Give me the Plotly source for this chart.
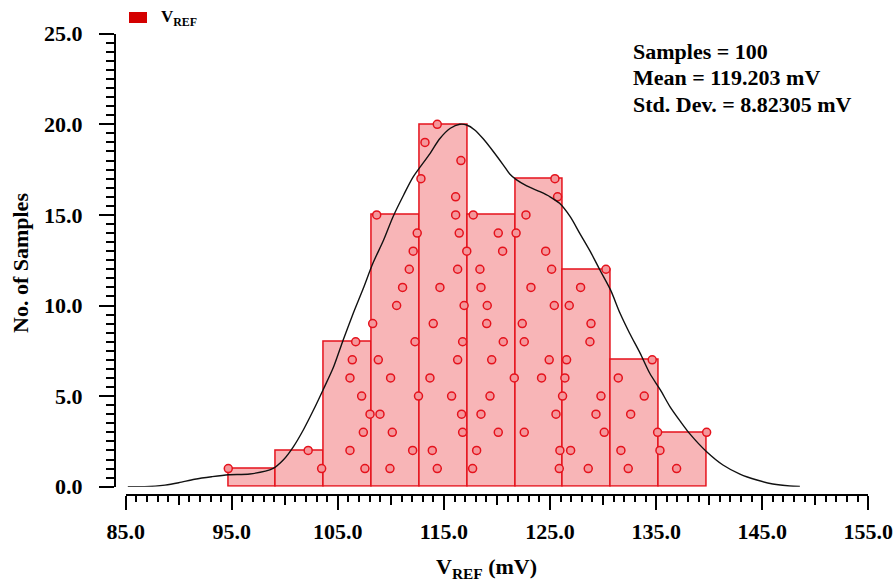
import numpy as np
import plotly.graph_objects as go

# ---- data ----
# samples listed in order of occurrence (rank inside each bin gives the dot height)
samples = [
    # rank 1
    94.67, 103.47, 107.55, 109.91, 114.37, 117.70, 125.87, 128.60, 132.37, 136.93,
    # rank 2
    102.20, 106.14, 112.05, 113.90, 118.08, 125.93, 126.94, 131.68, 135.36,
    # rank 3
    107.40, 110.13, 116.76, 120.12, 122.57, 130.11, 135.14, 139.76,
    # rank 4
    108.03, 108.97, 116.66, 118.49, 125.56, 129.33, 132.60,
    # rank 5
    107.24, 112.60, 115.72, 119.34, 126.18, 129.80, 133.88,
    # rank 6
    106.14, 109.97, 113.68, 121.63, 124.20, 126.40, 131.43,
    # rank 7
    106.36, 108.81, 116.29, 119.50, 124.92, 126.56, 134.63,
    # rank 8
    106.68, 112.27, 116.76, 120.59, 122.57, 128.76,
    # rank 9
    108.28, 113.99, 119.03, 122.38, 128.86,
    # rank 10
    110.54, 116.90, 119.08, 125.40, 126.81,
    # rank 11
    111.10, 114.62, 118.49, 123.20, 127.88,
    # rank 12
    111.73, 116.29, 118.39, 125.15, 130.27,
    # rank 13
    112.10, 117.15, 120.53, 124.59,
    # rank 14
    112.48, 116.44, 120.12, 121.80,
    # rank 15
    108.66, 116.10, 117.76, 122.73,
    # rank 16
    116.10, 125.71,
    # rank 17
    112.83, 125.46,
    # rank 18
    116.60,
    # rank 19
    113.21,
    # rank 20
    114.37,
]
n_bins = 10

curve_x = [85.2, 86.8, 88.7, 90.0, 91.5, 93.1, 94.7, 96.7, 98.9, 99.85, 100.8,
           101.74, 102.7, 103.6, 104.6, 105.5, 106.45, 107.4, 108.3, 109.3, 110.2,
           111.2, 112.1, 113.7, 114.6, 115.6, 116.5, 117.14, 117.9, 118.7, 119.65,
           120.6, 121.2, 121.85, 122.8, 124.05, 125.0, 125.9, 126.9, 127.8, 128.8,
           129.7, 130.7, 131.6, 132.5, 133.5, 134.4, 135.4, 136.3, 137.3, 138.2,
           139.76, 141.3, 142.9, 144.5, 146.0, 147.6, 148.55]
curve_y = [0.0, 0.0, 0.09, 0.22, 0.41, 0.55, 0.66, 0.70, 1.01, 1.47, 2.2,
           3.13, 4.23, 5.34, 6.62, 8.1, 9.57, 10.95, 12.33, 13.6, 14.9,
           16.1, 17.1, 18.4, 19.2, 19.78, 20.0, 19.96, 19.69, 19.2, 18.5,
           17.75, 17.26, 16.93, 16.6, 16.28, 16.0, 15.64, 14.9, 13.98, 12.97,
           11.96, 10.86, 9.57, 8.47, 7.36, 6.26, 5.34, 4.42, 3.59, 2.9,
           1.93, 1.2, 0.70, 0.37, 0.15, 0.04, 0.02]

stats_lines = ["Samples = 100", "Mean = 119.203 mV", "Std. Dev. = 8.82305 mV"]
series_name = "V<sub>REF</sub>"
x_title = "V<sub>REF</sub> (mV)"
y_title = "No. of Samples"
x_range = [85, 155]
y_range = [0, 25]

# ---- derived ----
vals = np.array(samples)
counts, edges = np.histogram(vals, bins=n_bins)
centers = (edges[:-1] + edges[1:]) / 2
widths = np.diff(edges)
bin_idx = np.clip(np.searchsorted(edges, vals, side="right") - 1, 0, n_bins - 1)
ranks = []
seen = {}
for b in bin_idx:
    seen[b] = seen.get(b, 0) + 1
    ranks.append(seen[b])

W, H = 895, 582
def px(x):
    return x / W
def py(y):
    return 1 - y / H

FONT = "Liberation Serif"
RED = "#E5121C"
PINK = "#F8B5B7"

fig = go.Figure()
fig.add_trace(go.Bar(x=centers, y=counts, width=widths,
                     marker=dict(color=PINK, line=dict(color=RED, width=1.5)),
                     showlegend=False, hoverinfo="skip"))
fig.add_trace(go.Scatter(x=curve_x, y=curve_y, mode="lines", xaxis="x2",
                         line=dict(color="#111111", width=1.4, shape="spline", smoothing=0.8),
                         showlegend=False, hoverinfo="skip"))
fig.add_trace(go.Scatter(x=vals, y=ranks, mode="markers",
                         marker=dict(symbol="circle", size=8, color="#F4979B",
                                     line=dict(color=RED, width=1.5)),
                         showlegend=False, hoverinfo="skip"))

tickfont = dict(family=FONT, size=22, color="black", weight="bold")
xdom = [px(125.7), px(868.3)]
ydom = [py(486.7), py(33.7)]

fig.update_layout(
    width=W, height=H, margin=dict(l=0, r=0, t=0, b=0, autoexpand=False),
    paper_bgcolor="white", plot_bgcolor="white",
    bargap=0,
    xaxis=dict(range=x_range, domain=xdom, anchor="free", position=py(495),
               automargin=False,
               showgrid=False, zeroline=False, showline=True, linecolor="black",
               linewidth=2, ticks="outside", ticklen=14, tickwidth=2,
               tickcolor="black", tick0=85, dtick=10, tickformat=".1f",
               tickfont=tickfont, ticklabelstandoff=3,
               minor=dict(ticks="outside", dtick=1, ticklen=6, tickwidth=1.5,
                          tickcolor="black", showgrid=False)),
    xaxis2=dict(range=x_range, overlaying="x", anchor="free", position=py(495),
                automargin=False,
                showgrid=False, zeroline=False, showline=False, ticks="outside",
                tickmode="array", tickvals=[90, 100, 110, 120, 130, 140, 150],
                ticklen=9, tickwidth=1.5, tickcolor="black", showticklabels=False),
    yaxis=dict(range=y_range, domain=ydom, anchor="free", position=px(115),
               automargin=False,
               showgrid=False, zeroline=False, showline=True, linecolor="black",
               linewidth=2, ticks="outside", ticklen=15, tickwidth=2,
               tickcolor="black", tick0=0, dtick=5, tickformat=".1f",
               tickfont=tickfont, ticklabelstandoff=12,
               minor=dict(ticks="outside", dtick=0.5, ticklen=8, tickwidth=1.5,
                          tickcolor="black", showgrid=False)),
)

ann_font = dict(family=FONT, size=22, color="black", weight="bold")
annotations = []
for i, line in enumerate(stats_lines):
    annotations.append(dict(text=line, xref="paper", yref="paper", x=px(631),
                            y=py(51.3 + i * 26.7), xanchor="left", yanchor="middle",
                            showarrow=False, font=ann_font))
annotations.append(dict(text=y_title, xref="paper", yref="paper", x=px(21), y=py(263),
                        textangle=-90, xanchor="center", yanchor="middle",
                        showarrow=False, font=ann_font))
annotations.append(dict(text=x_title, xref="paper", yref="paper", x=px(486.5), y=py(568),
                        xanchor="center", yanchor="middle", showarrow=False, font=ann_font))
annotations.append(dict(text=series_name, xref="paper", yref="paper", x=px(159), y=py(18),
                        xanchor="left", yanchor="middle", showarrow=False,
                        font=dict(family=FONT, size=17, color="black", weight="bold")))
fig.update_layout(annotations=annotations)
fig.add_shape(type="rect", xref="paper", yref="paper", x0=px(129), x1=px(147),
              y0=py(23), y1=py(12), fillcolor="#D40000", line=dict(width=0))

fig.write_html("out.html")
